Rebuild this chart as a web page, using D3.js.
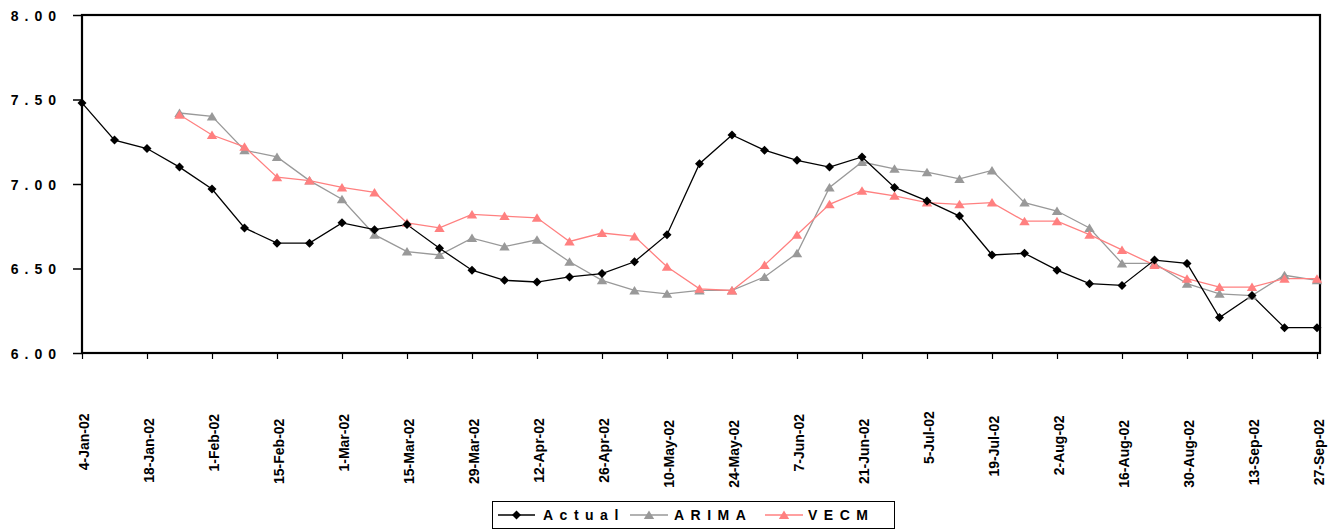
<!DOCTYPE html>
<html>
<head>
<meta charset="utf-8">
<script src="https://cdn.jsdelivr.net/npm/d3@7"></script>
<style>
  html, body { margin: 0; padding: 0; background: #fff; }
  svg { display: block; font-family: "Liberation Sans", Arial, sans-serif; }
</style>
</head>
<body>
<svg id="chart" width="1336" height="531"></svg>
<script>
// Weekly dates, 4 Jan 2002 to 27 Sep 2002
const weeks = [
  "4-Jan-02","11-Jan-02","18-Jan-02","25-Jan-02","1-Feb-02","8-Feb-02","15-Feb-02","22-Feb-02",
  "1-Mar-02","8-Mar-02","15-Mar-02","22-Mar-02","29-Mar-02","5-Apr-02","12-Apr-02","19-Apr-02",
  "26-Apr-02","3-May-02","10-May-02","17-May-02","24-May-02","31-May-02","7-Jun-02","14-Jun-02",
  "21-Jun-02","28-Jun-02","5-Jul-02","12-Jul-02","19-Jul-02","26-Jul-02","2-Aug-02","9-Aug-02",
  "16-Aug-02","23-Aug-02","30-Aug-02","6-Sep-02","13-Sep-02","20-Sep-02","27-Sep-02"
];

const actual = [7.48,7.26,7.21,7.10,6.97,6.74,6.65,6.65,6.77,6.73,6.76,6.62,6.49,6.43,6.42,6.45,
  6.47,6.54,6.70,7.12,7.29,7.20,7.14,7.10,7.16,6.98,6.90,6.81,6.58,6.59,6.49,6.41,6.40,6.55,6.53,
  6.21,6.34,6.15,6.15];

const arima = [null,null,null,7.42,7.40,7.20,7.16,7.02,6.91,6.70,6.60,6.58,6.68,6.63,6.67,6.54,
  6.43,6.37,6.35,6.37,6.37,6.45,6.59,6.98,7.13,7.09,7.07,7.03,7.08,6.89,6.84,6.74,6.53,6.53,6.41,
  6.35,6.34,6.46,6.43];

const vecm = [null,null,null,7.41,7.29,7.22,7.04,7.02,6.98,6.95,6.77,6.74,6.82,6.81,6.80,6.66,
  6.71,6.69,6.51,6.38,6.37,6.52,6.70,6.88,6.96,6.93,6.89,6.88,6.89,6.78,6.78,6.70,6.61,6.52,6.44,
  6.39,6.39,6.44,6.44];

const yTicks = [6.0, 6.5, 7.0, 7.5, 8.0];
const xTickLabels = weeks.filter((d, i) => i % 2 === 0);

const seriesNames = ["Actual", "ARIMA", "VECM"];

const svg = d3.select("#chart");

const plot = { left: 82, right: 1320, top: 15, bottom: 353 };

const x = d3.scalePoint().domain(weeks).range([82, 1317]).padding(0);
const y = d3.scaleLinear().domain([6, 8]).range([plot.bottom, plot.top]);

// Y axis
const yAxis = svg.append("g")
  .attr("transform", `translate(${plot.left},0)`)
  .call(d3.axisLeft(y).tickValues(yTicks).tickSize(9).tickPadding(0).tickFormat(d3.format(".2f")));
yAxis.select(".domain").remove();
yAxis.selectAll(".tick line").attr("stroke", "#000").attr("stroke-width", 1.5);
yAxis.selectAll(".tick text")
  .attr("x", -20)
  .attr("dy", "0.36em")
  .attr("fill", "#000")
  .style("font-size", "14px")
  .style("font-weight", "bold")
  .style("letter-spacing", "6px");

// X axis
const xAxis = svg.append("g")
  .attr("transform", `translate(0,${plot.bottom})`)
  .call(d3.axisBottom(x).tickValues(xTickLabels).tickSize(6).tickSizeOuter(0));
xAxis.select(".domain").remove();
xAxis.selectAll(".tick line").attr("stroke", "#000").attr("stroke-width", 1.2);
xAxis.selectAll(".tick text")
  .attr("fill", "#000")
  .style("font-size", "14px")
  .style("font-weight", "bold")
  .attr("text-anchor", "middle")
  .attr("dy", "0.35em")
  .each(function () {
    const t = d3.select(this);
    const len = this.getComputedTextLength();
    const cy = 441 + 1.1 * (len - 56) - plot.bottom;
    t.attr("x", 0).attr("y", 0)
     .attr("transform", `translate(1.5,${cy}) rotate(-90)`);
  });

// Plot frame
svg.append("rect")
  .attr("x", plot.left).attr("y", plot.top)
  .attr("width", plot.right - plot.left).attr("height", plot.bottom - plot.top)
  .attr("fill", "none").attr("stroke", "#000").attr("stroke-width", 2.2);

// Series lines
const line = d3.line()
  .defined(d => d.v != null)
  .x(d => x(d.w))
  .y(d => y(d.v));

const toPts = arr => arr.map((v, i) => ({ w: weeks[i], v }));

const series = [
  { name: "ARIMA", data: toPts(arima), color: "#999999", marker: "tri" },
  { name: "VECM", data: toPts(vecm), color: "#FF8080", marker: "tri" },
  { name: "Actual", data: toPts(actual), color: "#000000", marker: "dia" }
];

const triPath = "M0,-4.5L5.2,4L-5.2,4Z";
const diaPath = "M0,-4.5L4.5,0L0,4.5L-4.5,0Z";

series.forEach(s => {
  svg.append("path")
    .datum(s.data)
    .attr("fill", "none")
    .attr("stroke", s.color)
    .attr("stroke-width", 1.3)
    .attr("d", line);
});

series.forEach(s => {
  svg.append("g").selectAll("path")
    .data(s.data.filter(d => d.v != null))
    .join("path")
    .attr("transform", d => `translate(${x(d.w)},${y(d.v)})`)
    .attr("d", s.marker === "tri" ? triPath : diaPath)
    .attr("fill", s.color);
});

// Legend
const legend = svg.append("g");
legend.append("rect")
  .attr("x", 492.5).attr("y", 501.5).attr("width", 402).attr("height", 27)
  .attr("fill", "#fff").attr("stroke", "#000").attr("stroke-width", 1);

const legendItems = [
  { name: seriesNames[0], color: "#000000", marker: diaPath, x0: 498, x1: 535, tx: 543 },
  { name: seriesNames[1], color: "#999999", marker: triPath, x0: 630, x1: 668, tx: 674 },
  { name: seriesNames[2], color: "#FF8080", marker: triPath, x0: 765, x1: 803, tx: 808 }
];

legendItems.forEach(it => {
  legend.append("line")
    .attr("x1", it.x0).attr("x2", it.x1).attr("y1", 515).attr("y2", 515)
    .attr("stroke", it.color).attr("stroke-width", 1.3);
  legend.append("path")
    .attr("transform", `translate(${(it.x0 + it.x1) / 2},515)`)
    .attr("d", it.marker)
    .attr("fill", it.color);
  legend.append("text")
    .attr("x", it.tx).attr("y", 520)
    .attr("fill", "#000")
    .style("font-size", "14px")
    .style("font-weight", "bold")
    .style("letter-spacing", "6.5px")
    .text(it.name);
});
</script>
</body>
</html>
